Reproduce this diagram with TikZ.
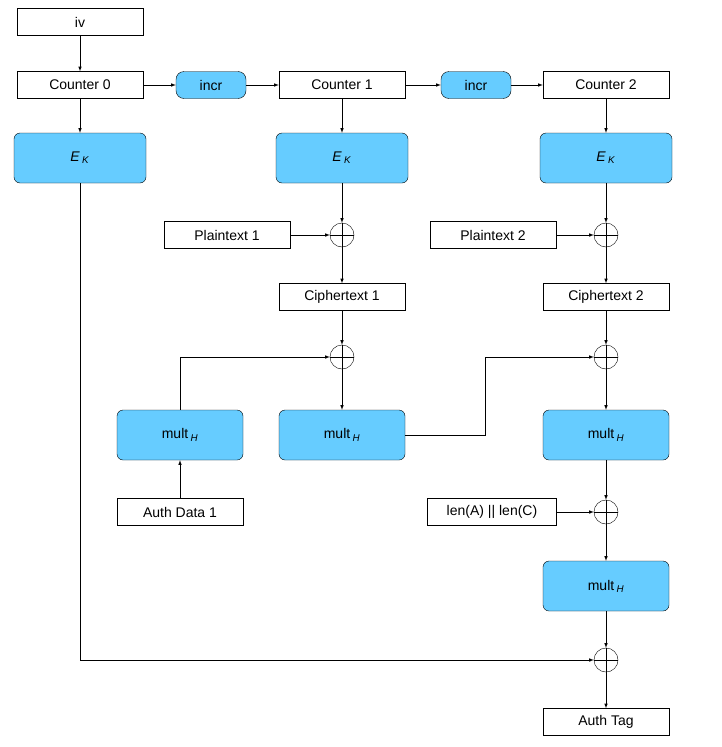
\documentclass[tikz,border=0pt]{standalone}
\usepackage{fontspec}
\setmainfont{Liberation Sans}
\usetikzlibrary{positioning,calc}
\definecolor{cipher}{RGB}{102,204,255}
\tikzstyle{plain}=[draw, minimum width=126pt, minimum height=27pt, inner sep=0pt, font=\fontsize{14}{16}\selectfont]
\tikzstyle{block}=[draw, fill=cipher, rounded corners=6pt, minimum width=132pt, minimum height=50pt, inner sep=0pt, font=\fontsize{14}{16}\selectfont]
\tikzstyle{mult}=[block, minimum width=126pt]
\tikzstyle{incr}=[draw, fill=cipher, rounded corners=8pt, minimum width=70pt, minimum height=27pt, inner sep=0pt, font=\fontsize{14}{16}\selectfont]
\tikzstyle{xor}=[draw, circle, minimum size=24pt, inner sep=0pt, path picture={
  \draw (path picture bounding box.north) -- (path picture bounding box.south);
  \draw (path picture bounding box.west) -- (path picture bounding box.east);}]
\tikzset{x=1pt,y=-1pt}
\tikzset{flow/.style={-latex, line width=.6pt}}
\newcommand{\ek}{\textit{E}\,\textsubscript{\textit{K}}}
\newcommand{\mh}{mult\,\textsubscript{\textit{H}}}
\begin{document}
\begin{tikzpicture}
  \useasboundingbox (0,0) rectangle (721,747);
  \draw (80,22) node[plain] (iv) {iv};
  \draw (80,85) node[plain] (C0) {Counter 0};
  \draw (211,85) node[incr] (I1) {incr};
  \draw (342,85) node[plain] (C1) {Counter 1};
  \draw (476,85) node[incr] (I2) {incr};
  \draw (606,85) node[plain] (C2) {Counter 2};

  \draw (80,158) node[block] (E0) {\ek};
  \draw (342,158) node[block] (E1) {\ek};
  \draw (606,158) node[block] (E2) {\ek};

  \draw (342,235) node[xor] (X1) {};
  \draw (606,235) node[xor] (X2) {};
  \draw (227,235) node[plain] (P1) {Plaintext 1};
  \draw (493,235) node[plain] (P2) {Plaintext 2};
  \draw (342,297) node[plain] (T1) {Ciphertext 1};
  \draw (606,297) node[plain] (T2) {Ciphertext 2};

  \draw (342,357) node[xor] (X3) {};
  \draw (606,357) node[xor] (X4) {};
  \draw (180,435) node[mult] (M0) {\mh};
  \draw (342,435) node[mult] (M1) {\mh};
  \draw (606,435) node[mult] (M2) {\mh};
  \draw (180,512) node[plain] (A1) {Auth Data 1};
  \draw (606,512) node[xor] (X5) {};
  \draw (492,512) node[plain, minimum width=129pt] (L) {len(A) || len(C)};
  \draw (606,586) node[mult] (M3) {\mh};
  \draw (606,660) node[xor] (X6) {};
  \draw (606,722) node[plain] (tag) {Auth Tag};

  %% counters
  \draw[flow] (iv) -- (C0);
  \draw[flow] (C0) -- (I1);
  \draw[flow] (I1) -- (C1);
  \draw[flow] (C1) -- (I2);
  \draw[flow] (I2) -- (C2);
  \draw[flow] (C0) -- (E0);
  \draw[flow] (C1) -- (E1);
  \draw[flow] (C2) -- (E2);
  %% encryption
  \draw[flow] (E1) -- (X1);
  \draw[flow] (E2) -- (X2);
  \draw[flow] (P1) -- (X1);
  \draw[flow] (P2) -- (X2);
  \draw[flow] (X1) -- (T1);
  \draw[flow] (X2) -- (T2);
  %% authentication
  \draw[flow] (T1) -- (X3);
  \draw[flow] (T2) -- (X4);
  \draw[flow] (A1) -- (M0);
  \draw[flow] (M0.north) |- (X3);
  \draw[flow] (X3) -- (M1);
  \draw[flow] (M1.east) -- (485,435) |- (X4);
  \draw[flow] (X4) -- (M2);
  \draw[flow] (M2) -- (X5);
  \draw[flow] (L) -- (X5);
  \draw[flow] (X5) -- (M3);
  \draw[flow] (M3) -- (X6);
  \draw[flow] (E0.south) |- (X6);
  \draw[flow] (X6) -- (tag);
\end{tikzpicture}
\end{document}
